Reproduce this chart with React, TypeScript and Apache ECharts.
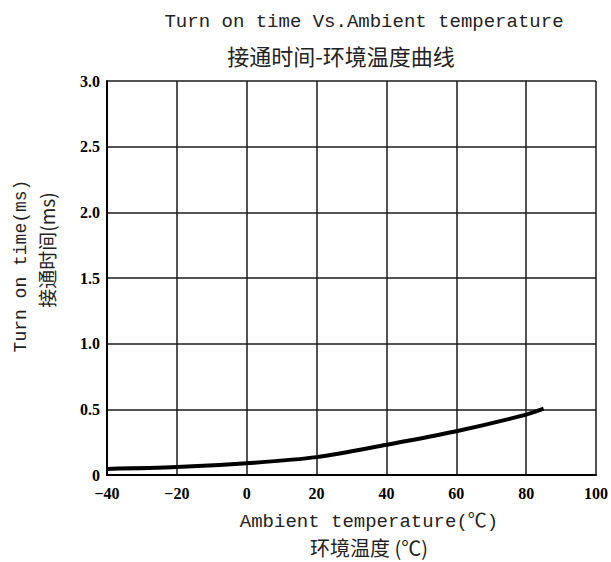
import React, { useEffect, useRef } from "react";
import * as echarts from "echarts";

const temperatures = [-40, -20, 0, 20, 40, 60, 80, 85];
const turnOnTimes = [0.046, 0.06, 0.09, 0.136, 0.23, 0.333, 0.46, 0.505];

const titleEn = "Turn on time Vs.Ambient temperature";
const titleCn = "接通时间-环境温度曲线";
const yNameEn = "Turn on time(ms)";
const yNameCn = "接通时间(ms)";
const xNameEn = "Ambient temperature(℃)";
const xNameCn = "环境温度 (℃)";

const MONO = "'Liberation Mono', 'Noto Sans CJK SC', monospace";
const CJK = "'Noto Sans CJK SC', sans-serif";

export default function App() {
  const ref = useRef<HTMLDivElement>(null);
  useEffect(() => {
    if (!ref.current) return;
    const chart = echarts.init(ref.current, undefined, { renderer: "svg" });
    const gridLine = { show: true, lineStyle: { color: "#1a1a1a", width: 1.5 } };
    chart.setOption({
      animation: false,
      backgroundColor: "#fff",
      title: [
        {
          text: titleEn,
          left: 359,
          top: 7,
          textAlign: "center",
          textStyle: { fontFamily: MONO, fontSize: 19, fontWeight: "normal", color: "#222" },
        },
        {
          text: titleCn,
          left: 336,
          top: 39,
          textAlign: "center",
          textStyle: { fontFamily: CJK, fontSize: 22, fontWeight: "normal", color: "#222" },
        },
      ],
      grid: { left: 107, top: 81, width: 489, height: 394, containLabel: false },
      xAxis: {
        type: "value",
        min: -40,
        max: 100,
        interval: 20,
        axisLine: { show: true, onZero: false, lineStyle: { color: "#000", width: 2 } },
        axisTick: { show: false },
        splitLine: gridLine,
        axisLabel: {
          margin: 10,
          fontFamily: "'Liberation Serif', serif",
          fontWeight: "bold",
          fontSize: 16,
          color: "#000",
          formatter: (v: number) => (v < 0 ? "\u2212" + Math.abs(v) : String(v)),
        },
      },
      yAxis: {
        type: "value",
        min: 0,
        max: 3,
        interval: 0.5,
        axisLine: { show: true, onZero: false, lineStyle: { color: "#000", width: 2 } },
        axisTick: { show: false },
        splitLine: gridLine,
        axisLabel: {
          margin: 7,
          fontFamily: "'Liberation Serif', serif",
          fontWeight: "bold",
          fontSize: 16,
          color: "#000",
          verticalAlign: "middle",
          formatter: (v: number) => (v === 0 ? "0" : v.toFixed(1)),
        },
      },
      graphic: [
        {
          type: "text",
          x: 369,
          y: 522,
          style: { text: xNameEn, font: `19px ${MONO}`, fill: "#222", align: "center", verticalAlign: "middle" },
        },
        {
          type: "text",
          x: 369,
          y: 547,
          style: { text: xNameCn, font: `20px ${CJK}`, fill: "#222", align: "center", verticalAlign: "middle" },
        },
        {
          type: "text",
          x: 21,
          y: 266,
          rotation: Math.PI / 2,
          style: { text: yNameEn, font: `18px ${MONO}`, fill: "#222", align: "center", verticalAlign: "middle" },
        },
        {
          type: "text",
          x: 46,
          y: 250,
          rotation: Math.PI / 2,
          style: { text: yNameCn, font: `19px ${CJK}`, fill: "#222", align: "center", verticalAlign: "middle" },
        },
      ],
      series: [
        {
          type: "line",
          data: temperatures.map((t, i) => [t, turnOnTimes[i]]),
          smooth: 0.3,
          showSymbol: false,
          lineStyle: { color: "#000", width: 4 },
        },
      ],
    });
    return () => chart.dispose();
  }, []);
  return (
    <div
      ref={ref}
      style={{ position: "fixed", left: 0, top: 0, width: 611, height: 562, background: "#fff" }}
    />
  );
}
